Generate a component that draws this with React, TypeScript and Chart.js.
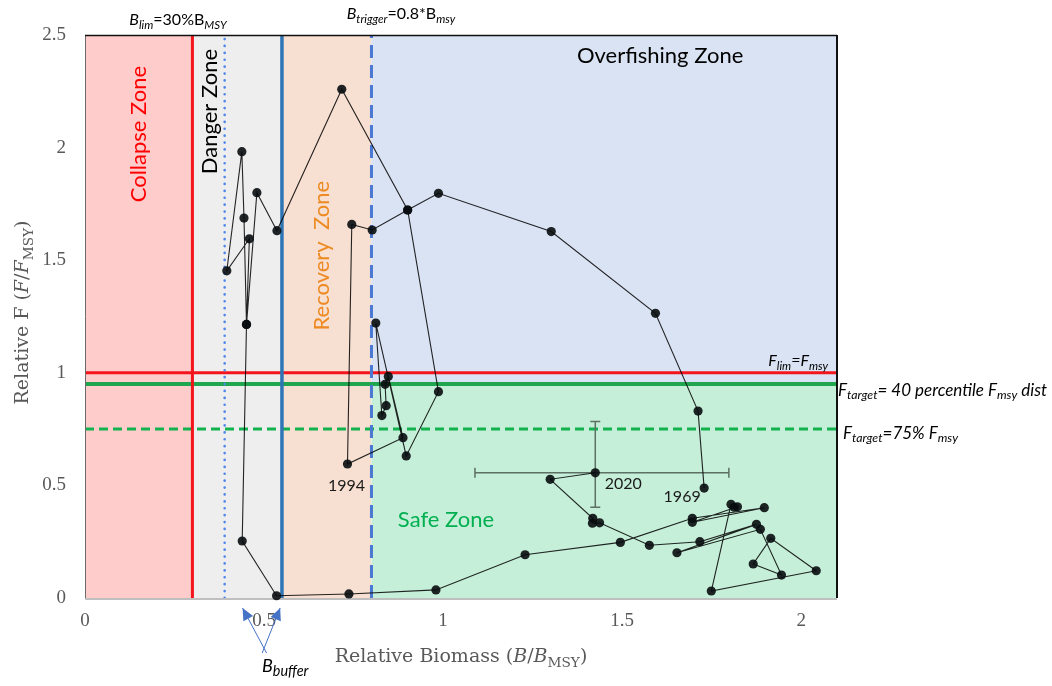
import React, { useEffect, useRef } from "react";
import { Chart, registerables } from "chart.js";

Chart.register(...registerables);

// ---- Data: stock trajectory (relative biomass B/Bmsy, relative F F/Fmsy) in plotted order ----
const relBiomass = [
  1.729, 1.712, 1.593, 1.302, 0.987, 0.901, 0.802, 0.745, 0.733, 0.888,
  0.847, 0.838, 0.841, 0.829, 0.812, 0.897, 0.987, 0.901, 0.717, 0.536,
  0.48, 0.451, 0.444, 0.438, 0.396, 0.459, 0.451, 0.439, 0.535, 0.737,
  0.98, 1.229, 1.495, 1.696, 1.897, 1.696, 1.822, 1.813, 1.804, 1.749,
  2.042, 1.915, 1.866, 1.945, 1.886, 1.653, 1.875, 1.717, 1.576, 1.437,
  1.417, 1.418, 1.299, 1.425,
];
const relF = [
  0.488, 0.83, 1.264, 1.627, 1.797, 1.723, 1.634, 1.659, 0.595, 0.712,
  0.984, 0.949, 0.854, 0.81, 1.221, 0.631, 0.916, 1.723, 2.259, 1.631,
  1.8, 1.215, 1.687, 1.982, 1.453, 1.595, 1.215, 0.253, 0.01, 0.018,
  0.036, 0.192, 0.247, 0.354, 0.401, 0.336, 0.405, 0.403, 0.416, 0.031,
  0.121, 0.265, 0.151, 0.102, 0.305, 0.201, 0.327, 0.25, 0.234, 0.334,
  0.332, 0.354, 0.527, 0.556,
];
const yearLabelIndex = [0, 8, 53];
const yearLabelText = ["1969", "1994", "2020"];

// 2020 uncertainty (error bars)
const err2020B = [1.089, 1.798];
const err2020F = [0.403, 0.784];

// Reference points
const bLim = 0.3;
const bBufferLow = 0.39;
const bBuffer = 0.55;
const bTrigger = 0.8;
const fLim = 1.0;
const fTarget40 = 0.95;
const fTarget75 = 0.75;
const bufferArrowTargets = [0.44, 0.545];

// Axes
const xMin = 0;
const xMax = 2.1;
const yMin = 0;
const yMax = 2.5;
const xTickValues = [0, 0.5, 1, 1.5, 2];
const yTickValues = [0, 0.5, 1, 1.5, 2, 2.5];

const SANS = "Lato, 'Liberation Sans', sans-serif";
const SERIF = "'Liberation Serif', serif";
const TITLE_SERIF = "'DejaVu Serif', serif";

type Seg = { t: string; i?: boolean; s?: boolean };

function drawRich(
  ctx: CanvasRenderingContext2D,
  segs: Seg[],
  x: number,
  y: number,
  size: number,
  fam: string,
  color: string,
  align: "left" | "center" | "right",
  subScale = 0.72
) {
  const fontOf = (g: Seg) =>
    `${g.i ? "italic " : ""}${g.s ? size * subScale : size}px ${fam}`;
  let w = 0;
  const widths: number[] = [];
  for (const g of segs) {
    ctx.font = fontOf(g);
    const m = ctx.measureText(g.t).width;
    widths.push(m);
    w += m;
  }
  let cx = align === "left" ? x : align === "center" ? x - w / 2 : x - w;
  ctx.fillStyle = color;
  ctx.textBaseline = "middle";
  ctx.textAlign = "left";
  segs.forEach((g, k) => {
    ctx.font = fontOf(g);
    ctx.fillText(g.t, cx, g.s ? y + size * 0.32 : y);
    cx += widths[k];
  });
}

const decorPlugin = {
  id: "kobeDecor",
  beforeDatasetsDraw(chart: any) {
    const ctx: CanvasRenderingContext2D = chart.ctx;
    const xs = chart.scales.x;
    const ys = chart.scales.y;
    const X = (v: number) => xs.getPixelForValue(v);
    const Y = (v: number) => ys.getPixelForValue(v);
    ctx.save();

    const rect = (x0: number, x1: number, y0: number, y1: number, c: string) => {
      ctx.fillStyle = c;
      ctx.fillRect(X(x0), Y(y1), X(x1) - X(x0), Y(y0) - Y(y1));
    };
    rect(xMin, bLim, yMin, yMax, "#ffcccc");
    rect(bLim, bBuffer, yMin, yMax, "#eeeeee");
    rect(bBuffer, bTrigger, yMin, yMax, "#f7dfd1");
    rect(bTrigger, xMax, fTarget40, yMax, "#dae3f3");
    rect(bTrigger, xMax, yMin, fTarget40, "#c6efd9");

    const hLine = (v: number, c: string, w: number, dash: number[] = []) => {
      ctx.beginPath();
      ctx.setLineDash(dash);
      ctx.strokeStyle = c;
      ctx.lineWidth = w;
      ctx.lineCap = "butt";
      ctx.moveTo(X(xMin), Y(v));
      ctx.lineTo(X(xMax), Y(v));
      ctx.stroke();
    };
    const vLine = (v: number, c: string, w: number, dash: number[] = [], cap: CanvasLineCap = "butt") => {
      ctx.beginPath();
      ctx.setLineDash(dash);
      ctx.strokeStyle = c;
      ctx.lineWidth = w;
      ctx.lineCap = cap;
      ctx.moveTo(X(v), Y(yMin));
      ctx.lineTo(X(v), Y(yMax));
      ctx.stroke();
    };
    hLine(fLim, "#f4141c", 3);
    hLine(fTarget40, "#1fa64f", 4);
    hLine(fTarget75, "#12b24e", 3, [9, 5]);
    vLine(bLim, "#f4141c", 3);
    vLine(bBufferLow, "#4f86ea", 2.6, [0.1, 6.8], "round");
    vLine(bBuffer, "#2e75b6", 3.5);
    vLine(bTrigger, "#4a78d2", 3, [13, 7]);
    ctx.setLineDash([]);

    // zone labels
    const vText = (t: string, xv: number, yv: number, c: string, size: number) => {
      ctx.save();
      ctx.translate(X(xv), Y(yv));
      ctx.rotate(-Math.PI / 2);
      ctx.font = `${size}px ${SANS}`;
      ctx.fillStyle = c;
      ctx.textAlign = "center";
      ctx.textBaseline = "middle";
      ctx.fillText(t, 0, 0);
      ctx.restore();
    };
    vText("Collapse Zone", 0.15, 2.06, "#ff0000", 22);
    vText("Danger Zone", 0.349, 2.16, "#000000", 22);
    vText("Recovery  Zone", 0.662, 1.52, "#ee8a22", 22);
    ctx.font = `22px ${SANS}`;
    ctx.textAlign = "center";
    ctx.textBaseline = "middle";
    ctx.fillStyle = "#000000";
    ctx.fillText("Overfishing Zone", X(1.606), Y(2.405));
    ctx.fillStyle = "#00b050";
    ctx.fillText("Safe Zone", X(1.008), Y(0.346));

    // 2020 error bars
    const last = relBiomass.length - 1;
    const cx = X(relBiomass[last]);
    const cy = Y(relF[last]);
    ctx.strokeStyle = "#5d7064";
    ctx.lineWidth = 1.5;
    ctx.beginPath();
    ctx.moveTo(X(err2020B[0]), cy);
    ctx.lineTo(X(err2020B[1]), cy);
    ctx.moveTo(X(err2020B[0]), cy - 5);
    ctx.lineTo(X(err2020B[0]), cy + 5);
    ctx.moveTo(X(err2020B[1]), cy - 5);
    ctx.lineTo(X(err2020B[1]), cy + 5);
    ctx.moveTo(cx, Y(err2020F[1]));
    ctx.lineTo(cx, Y(err2020F[0]));
    ctx.moveTo(cx - 5, Y(err2020F[1]));
    ctx.lineTo(cx + 5, Y(err2020F[1]));
    ctx.moveTo(cx - 5, Y(err2020F[0]));
    ctx.lineTo(cx + 5, Y(err2020F[0]));
    ctx.stroke();

    // plot borders
    const a = chart.chartArea;
    ctx.lineCap = "butt";
    ctx.strokeStyle = "#bfbfbf";
    ctx.lineWidth = 2;
    ctx.beginPath();
    ctx.moveTo(a.left, a.bottom + 1);
    ctx.lineTo(a.right, a.bottom + 1);
    ctx.stroke();
    ctx.strokeStyle = "#6b6b6b";
    ctx.lineWidth = 1;
    ctx.beginPath();
    ctx.moveTo(a.left + 0.5, a.top);
    ctx.lineTo(a.left + 0.5, a.bottom);
    ctx.stroke();
    ctx.strokeStyle = "#111111";
    ctx.lineWidth = 1.5;
    ctx.beginPath();
    ctx.moveTo(a.left, a.top + 0.5);
    ctx.lineTo(a.right, a.top + 0.5);
    ctx.stroke();
    ctx.lineWidth = 2;
    ctx.beginPath();
    ctx.moveTo(a.right, a.top);
    ctx.lineTo(a.right, a.bottom);
    ctx.stroke();
    ctx.restore();
  },
  afterDatasetsDraw(chart: any) {
    const ctx: CanvasRenderingContext2D = chart.ctx;
    const xs = chart.scales.x;
    const ys = chart.scales.y;
    const X = (v: number) => xs.getPixelForValue(v);
    const Y = (v: number) => ys.getPixelForValue(v);
    ctx.save();
    const offs = [
      [-22, 9],
      [-1, 22],
      [28, 11],
    ];
    ctx.font = `16px ${SANS}`;
    ctx.fillStyle = "#1a1a1a";
    ctx.textAlign = "center";
    ctx.textBaseline = "middle";
    yearLabelIndex.forEach((idx, k) => {
      ctx.fillText(
        yearLabelText[k],
        X(relBiomass[idx]) + offs[k][0],
        Y(relF[idx]) + offs[k][1]
      );
    });
    ctx.restore();
  },
  afterDraw(chart: any) {
    const ctx: CanvasRenderingContext2D = chart.ctx;
    const xs = chart.scales.x;
    const ys = chart.scales.y;
    const a = chart.chartArea;
    const X = (v: number) => xs.getPixelForValue(v);
    const Y = (v: number) => ys.getPixelForValue(v);
    ctx.save();

    // top labels
    drawRich(ctx, [{ t: "B", i: true }, { t: "lim", i: true, s: true }, { t: "=30%B" }, { t: "MSY", i: true, s: true }],
      178, 20, 16, SANS, "#000", "center");
    drawRich(ctx, [{ t: "B", i: true }, { t: "trigger", i: true, s: true }, { t: "=0.8*B" }, { t: "msy", i: true, s: true }],
      401, 14, 16, SANS, "#000", "center");

    // right labels
    drawRich(ctx, [{ t: "F", i: true }, { t: "lim", i: true, s: true }, { t: "=F", i: true }, { t: "msy", i: true, s: true }],
      a.right - 9, Y(fLim) - 12, 16, SANS, "#000", "right");
    drawRich(ctx, [{ t: "F", i: true }, { t: "target", i: true, s: true }, { t: "= 40 percentile F", i: true }, { t: "msy", i: true, s: true }, { t: " dist", i: true }],
      a.right + 1, Y(fTarget40) + 6, 17, SANS, "#000", "left");
    drawRich(ctx, [{ t: "F", i: true }, { t: "target", i: true, s: true }, { t: "=75% F", i: true }, { t: "msy", i: true, s: true }],
      a.right + 6, Y(fTarget75) + 4, 17, SANS, "#000", "left");

    // B buffer arrows
    const tipY = a.bottom + 10;
    const tips = bufferArrowTargets.map((v) => X(v));
    const bases = [
      [tips[0] + 24, a.bottom + 55],
      [tips[1] - 18, a.bottom + 55],
    ];
    ctx.strokeStyle = "#4472c4";
    ctx.fillStyle = "#4472c4";
    ctx.lineWidth = 1;
    tips.forEach((tx, k) => {
      const [bx, by] = bases[k];
      ctx.beginPath();
      ctx.moveTo(bx, by);
      ctx.lineTo(tx, tipY);
      ctx.stroke();
      const ang = Math.atan2(tipY - by, tx - bx);
      const L = 12;
      const W = 5.5;
      const px = tx - L * Math.cos(ang);
      const py = tipY - L * Math.sin(ang);
      ctx.beginPath();
      ctx.moveTo(tx, tipY);
      ctx.lineTo(px + W * Math.sin(ang), py - W * Math.cos(ang));
      ctx.lineTo(px - W * Math.sin(ang), py + W * Math.cos(ang));
      ctx.closePath();
      ctx.fill();
    });
    drawRich(ctx, [{ t: "B", i: true }, { t: "buffer", i: true, s: true }], 262, a.bottom + 68, 18, SANS, "#000", "left", 0.8);

    // axis titles
    drawRich(ctx, [{ t: "Relative Biomass (" }, { t: "B", i: true }, { t: "/" }, { t: "B", i: true }, { t: "MSY", s: true }, { t: ")" }],
      (a.left + a.right) / 2, a.bottom + 59, 19, TITLE_SERIF, "#595959", "center");
    ctx.translate(23, (a.top + a.bottom) / 2 - 4);
    ctx.rotate(-Math.PI / 2);
    drawRich(ctx, [{ t: "Relative F (" }, { t: "F", i: true }, { t: "/" }, { t: "F", i: true }, { t: "MSY", s: true }, { t: ")" }],
      0, 0, 19, TITLE_SERIF, "#595959", "center");
    ctx.restore();
  },
};

export default function App() {
  const ref = useRef<HTMLCanvasElement>(null);
  useEffect(() => {
    const canvas = ref.current;
    if (!canvas) return;
    const points = relBiomass.map((b, k) => ({ x: b, y: relF[k] }));
    const chart = new Chart(canvas, {
      type: "scatter",
      data: {
        datasets: [
          {
            data: points,
            showLine: true,
            borderColor: "rgba(0,0,0,0.85)",
            borderWidth: 1.1,
            pointRadius: 4.6,
            pointBackgroundColor: "rgba(8,12,14,0.9)",
            pointBorderWidth: 0,
            tension: 0,
            clip: 8,
          } as any,
        ],
      },
      options: {
        responsive: false,
        animation: false,
        devicePixelRatio: 1,
        layout: { padding: { left: 25, top: 35, right: 215, bottom: 38 } },
        plugins: { legend: { display: false }, tooltip: { enabled: false } },
        events: [],
        scales: {
          x: {
            type: "linear",
            min: xMin,
            max: xMax,
            grid: { display: false, drawTicks: false },
            border: { display: false },
            ticks: {
              color: "#595959",
              font: { family: SERIF, size: 19 },
              padding: 12,
              callback: (v: any) => String(v),
            },
            afterBuildTicks: (s: any) => {
              s.ticks = xTickValues.map((v) => ({ value: v }));
            },
            afterFit: (s: any) => {
              s.height = 50;
            },
          },
          y: {
            type: "linear",
            min: yMin,
            max: yMax,
            grid: { display: false, drawTicks: false },
            border: { display: false },
            ticks: {
              color: "#595959",
              font: { family: SERIF, size: 19 },
              padding: 19,
              callback: (v: any) => String(v),
            },
            afterBuildTicks: (s: any) => {
              s.ticks = yTickValues.map((v) => ({ value: v }));
            },
            afterFit: (s: any) => {
              s.width = 60;
            },
          },
        },
      },
      plugins: [decorPlugin],
    } as any);
    return () => chart.destroy();
  }, []);
  return (
    <div style={{ position: "fixed", left: 0, top: 0, width: 1052, height: 686, background: "#ffffff" }}>
      <canvas ref={ref} width={1052} height={686} style={{ display: "block", width: 1052, height: 686 }} />
    </div>
  );
}
